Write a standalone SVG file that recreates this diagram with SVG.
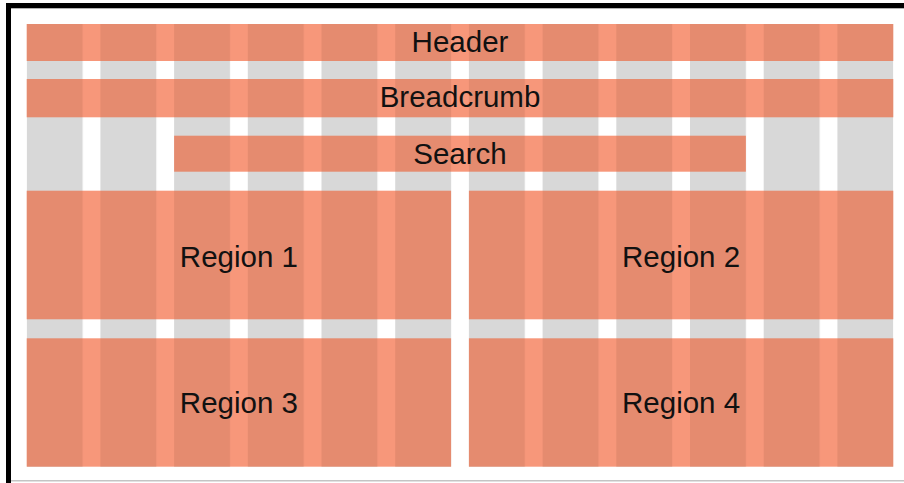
<svg xmlns="http://www.w3.org/2000/svg" width="904" height="483" viewBox="0 0 904 483">
  <defs>
    <pattern id="grayGrid" patternUnits="userSpaceOnUse" x="26.7" y="0" width="73.7" height="20">
      <rect x="0" y="0" width="73.7" height="20" fill="#ffffff"/>
      <rect x="0" y="0" width="55.9" height="20" fill="#d8d8d8"/>
    </pattern>
    <pattern id="orangeGrid" patternUnits="userSpaceOnUse" x="26.7" y="0" width="73.7" height="20">
      <rect x="0" y="0" width="73.7" height="20" fill="#f7977a"/>
      <rect x="0" y="0" width="55.9" height="20" fill="#e58b6f"/>
    </pattern>
  </defs>
  <style>
    .bar { fill: url(#orangeGrid); }
    .lbl { font-family: "Liberation Sans", Arial, sans-serif; font-size: 29.5px; fill: #111111; text-anchor: middle; }
  </style>
  <rect x="0" y="0" width="904" height="483" fill="#ffffff"/>
  <!-- frame -->
  <rect x="6" y="3" width="898" height="5.3" fill="#000000"/>
  <rect x="6" y="3" width="5" height="480" fill="#000000"/>
  <rect x="11" y="480" width="893" height="1.5" fill="#c4c4c4"/>
  <!-- grid background -->
  <rect id="grid" x="26.7" y="24" width="866.6" height="442.7" fill="url(#grayGrid)"/>
  <g id="header">
    <rect class="bar" x="26.7" y="24" width="866.6" height="37"/>
    <text class="lbl" x="460" y="52">Header</text>
  </g>
  <g id="breadcrumb">
    <rect class="bar" x="26.7" y="79" width="866.6" height="38.3"/>
    <text class="lbl" x="460" y="107">Breadcrumb</text>
  </g>
  <g id="search">
    <rect class="bar" x="174.1" y="135.7" width="571.8" height="36"/>
    <text class="lbl" x="460" y="163.5">Search</text>
  </g>
  <g id="region1">
    <rect class="bar" x="26.7" y="190.7" width="424.4" height="128.6"/>
    <text class="lbl" x="238.9" y="266.5">Region 1</text>
  </g>
  <g id="region2">
    <rect class="bar" x="468.9" y="190.7" width="424.4" height="128.6"/>
    <text class="lbl" x="681.1" y="266.5">Region 2</text>
  </g>
  <g id="region3">
    <rect class="bar" x="26.7" y="338.3" width="424.4" height="128.4"/>
    <text class="lbl" x="238.9" y="413">Region 3</text>
  </g>
  <g id="region4">
    <rect class="bar" x="468.9" y="338.3" width="424.4" height="128.4"/>
    <text class="lbl" x="681.1" y="413">Region 4</text>
  </g>
</svg>
